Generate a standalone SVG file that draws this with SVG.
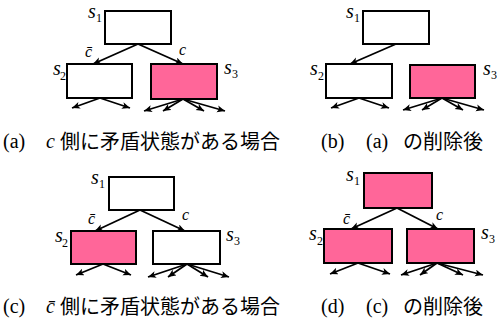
<svg xmlns="http://www.w3.org/2000/svg" width="497" height="327" viewBox="0 0 497 327">
<defs>
<marker id="ah" markerUnits="userSpaceOnUse" markerWidth="9" markerHeight="8" refX="8" refY="3.5" orient="auto">
<path d="M0,0 L8,3.5 L0,7 L2,3.5 z" fill="#000"/>
</marker>
<style>
.box{fill:#fff;stroke:#000;stroke-width:2}
.pink{fill:#ff6699;stroke:#000;stroke-width:2}
.e{stroke:#000;stroke-width:1.8;fill:none;marker-end:url(#ah)}
</style>
</defs>

<g font-family="Liberation Serif, Times New Roman, serif" fill="#000">
<!-- Panel (a) -->
<g id="a_s1"><rect class="box" x="105" y="11" width="66" height="33"/><text font-style="italic" font-size="20" x="88" y="18">s</text><text font-size="12" x="96" y="22">1</text></g>
<g id="a_s2"><rect class="box" x="67" y="64" width="65" height="34"/><text font-style="italic" font-size="20" x="53" y="75">s</text><text font-size="12" x="60" y="80">2</text></g>
<g id="a_s3"><rect class="pink" x="151" y="64" width="66" height="35"/><text font-style="italic" font-size="20" x="224" y="74">s</text><text font-size="12" x="232" y="78">3</text></g>

<!-- Panel (b) -->
<g id="b_s1"><rect class="box" x="363" y="11" width="66" height="33"/><text font-style="italic" font-size="20" x="346" y="18">s</text><text font-size="12" x="354" y="22">1</text></g>
<g id="b_s2"><rect class="box" x="326" y="64" width="66" height="34"/><text font-style="italic" font-size="20" x="310" y="75">s</text><text font-size="12" x="318" y="80">2</text></g>
<g id="b_s3"><rect class="pink" x="410" y="65" width="65" height="33"/><text font-style="italic" font-size="20" x="483" y="75">s</text><text font-size="12" x="491" y="79">3</text></g>

<!-- Panel (c) -->
<g id="c_s1"><rect class="box" x="109" y="177" width="65" height="33"/><text font-style="italic" font-size="20" x="91" y="184">s</text><text font-size="12" x="99" y="188">1</text></g>
<g id="c_s2"><rect class="pink" x="71" y="231" width="65" height="33"/><text font-style="italic" font-size="20" x="55" y="242">s</text><text font-size="12" x="62" y="247">2</text></g>
<g id="c_s3"><rect class="box" x="153" y="231" width="67" height="33"/><text font-style="italic" font-size="20" x="226" y="241">s</text><text font-size="12" x="234" y="245">3</text></g>

<!-- Panel (d) -->
<g id="d_s1"><rect class="pink" x="364" y="173" width="68" height="35"/><text font-style="italic" font-size="20" x="346" y="181">s</text><text font-size="12" x="354" y="185">1</text></g>
<g id="d_s2"><rect class="pink" x="324" y="229" width="68" height="34"/><text font-style="italic" font-size="20" x="309" y="240">s</text><text font-size="12" x="317" y="245">2</text></g>
<g id="d_s3"><rect class="pink" x="407" y="229" width="67" height="34"/><text font-style="italic" font-size="20" x="481" y="239">s</text><text font-size="12" x="489" y="243">3</text></g>

<g id="connectors">
<!-- (a) -->
<line class="e" x1="138" y1="44" x2="93" y2="64"/>
<line class="e" x1="138" y1="44" x2="183" y2="64"/>
<line class="e" x1="100" y1="98" x2="72" y2="108"/>
<line class="e" x1="100" y1="98" x2="130" y2="108"/>
<line class="e" x1="183" y1="99" x2="144" y2="111"/>
<line class="e" x1="183" y1="99" x2="163" y2="111"/>
<line class="e" x1="183" y1="99" x2="204" y2="111"/>
<line class="e" x1="183" y1="99" x2="225" y2="111"/>
<!-- (b) -->
<line class="e" x1="396" y1="44" x2="350" y2="64"/>
<line class="e" x1="359" y1="98" x2="331" y2="108"/>
<line class="e" x1="359" y1="98" x2="389" y2="108"/>
<line class="e" x1="442" y1="98" x2="403" y2="110"/>
<line class="e" x1="442" y1="98" x2="422" y2="110"/>
<line class="e" x1="442" y1="98" x2="463" y2="110"/>
<line class="e" x1="442" y1="98" x2="484" y2="110"/>
<!-- (c) -->
<line class="e" x1="140" y1="210" x2="95" y2="231"/>
<line class="e" x1="140" y1="210" x2="185" y2="231"/>
<line class="e" x1="103" y1="264" x2="76" y2="275"/>
<line class="e" x1="103" y1="264" x2="131" y2="275"/>
<line class="e" x1="187" y1="264" x2="148" y2="277"/>
<line class="e" x1="187" y1="264" x2="168" y2="277"/>
<line class="e" x1="187" y1="264" x2="208" y2="277"/>
<line class="e" x1="187" y1="264" x2="229" y2="277"/>
<!-- (d) -->
<line class="e" x1="397" y1="208" x2="351" y2="229"/>
<line class="e" x1="397" y1="208" x2="438" y2="229"/>
<line class="e" x1="358" y1="263" x2="330" y2="274"/>
<line class="e" x1="358" y1="263" x2="390" y2="274"/>
<line class="e" x1="437" y1="263" x2="401" y2="275"/>
<line class="e" x1="437" y1="263" x2="420" y2="275"/>
<line class="e" x1="437" y1="263" x2="463" y2="275"/>
<line class="e" x1="437" y1="263" x2="483" y2="275"/>
</g>

<g id="edge-labels" font-style="italic" font-size="16">
<text x="85" y="57">c̄</text>
<text x="179" y="55">c</text>
<text x="88" y="224">c̄</text>
<text x="182" y="220">c</text>
<text x="343" y="224">c̄</text>
<text x="436" y="220">c</text>
</g>

<g id="captions" font-size="20">
<text x="3" y="148">(a)</text>
<text font-style="italic" x="46" y="148">c</text>
<text font-family="Noto Sans CJK JP, sans-serif" x="60" y="149">側に矛盾状態がある場合</text>
<text x="321" y="148">(b)</text>
<text x="366" y="148">(a)</text>
<text font-family="Noto Sans CJK JP, sans-serif" x="403" y="149">の削除後</text>
<text x="3" y="313">(c)</text>
<text font-style="italic" x="46" y="313">c̄</text>
<text font-family="Noto Sans CJK JP, sans-serif" x="60" y="314">側に矛盾状態がある場合</text>
<text x="321" y="313">(d)</text>
<text x="366" y="313">(c)</text>
<text font-family="Noto Sans CJK JP, sans-serif" x="403" y="314">の削除後</text>
</g>
</g>
</svg>
